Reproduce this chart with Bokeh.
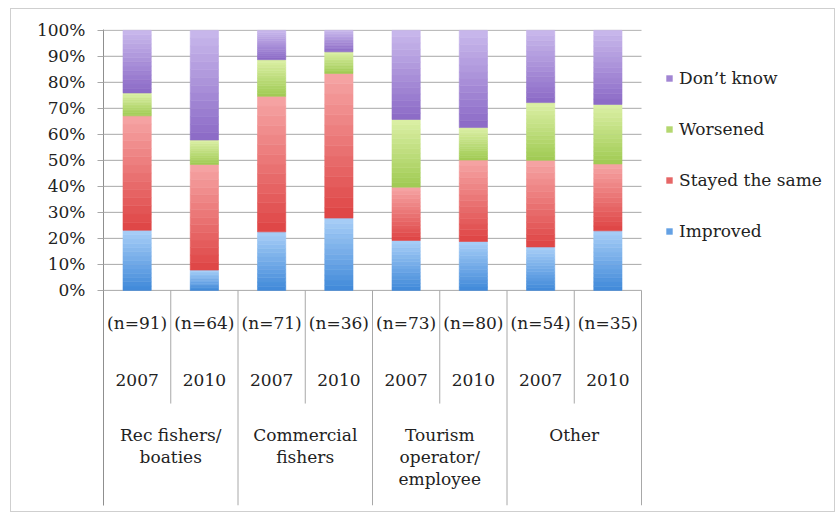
from bokeh.plotting import figure
from bokeh.models import (ColumnDataSource, Range1d, FixedTicker, PrintfTickFormatter,
                          Legend, LegendItem)
from bokeh.core.properties import value
from bokeh.embed import file_html
from bokeh.resources import INLINE

# ---- data -----------------------------------------------------------------
groups = ["Rec fishers/\nboaties", "Commercial\nfishers",
          "Tourism\noperator/\nemployee", "Other"]
years = ["2007", "2010", "2007", "2010", "2007", "2010", "2007", "2010"]
sample_sizes = [91, 64, 71, 36, 73, 80, 54, 35]

# share of respondents (%) per response, one value per group/year column
improved = [23.1, 7.8, 22.5, 27.8, 19.2, 18.8, 16.7, 22.9]
stayed_same = [44.0, 40.6, 52.1, 55.6, 20.5, 31.3, 33.3, 25.7]
worsened = [8.8, 9.4, 14.1, 8.3, 26.0, 12.5, 22.2, 22.9]
dont_know = [24.1, 42.2, 11.3, 8.3, 34.3, 37.4, 27.8, 28.5]

series_names = ["Improved", "Stayed the same", "Worsened", "Don\u2019t know"]
series_values = [improved, stayed_same, worsened, dont_know]
# (light top, dark bottom) colour of each segment's vertical gradient
series_colors = [("#a9cef7", "#3f89d9"), ("#f6a6a6", "#de4343"),
                 ("#dcf0a6", "#9fca52"), ("#c9b9ec", "#8b69c6")]

FONT = "DejaVu Serif"
TEXT = "#222222"
RULE = "#a8a8a8"

# layout: each column is 67.25 px wide; the frame also holds the legend area
COL_PX = 67.25
FRAME_W = 731
FRAME_H = 476


def blend(c1, c2, t):
    a = [int(c1[i:i + 2], 16) for i in (1, 3, 5)]
    b = [int(c2[i:i + 2], 16) for i in (1, 3, 5)]
    return "#%02x%02x%02x" % tuple(round(x + (y - x) * t) for x, y in zip(a, b))


def gradient_source(centers, bottoms, tops, light, dark, width=0.42, bands=14):
    cols = dict(left=[], right=[], bottom=[], top=[], color=[])
    for c, b, t in zip(centers, bottoms, tops):
        step = (t - b) / bands
        for k in range(bands):
            cols["left"].append(c - width / 2)
            cols["right"].append(c + width / 2)
            cols["bottom"].append(b + k * step)
            cols["top"].append(b + (k + 1) * step)
            cols["color"].append(blend(dark, light, (k + 0.5) / bands))
    return ColumnDataSource(cols)


n_cols = len(years)
centers = [i + 0.5 for i in range(n_cols)]
y_bottom = -82.7

p = figure(width=823, height=502, output_backend="svg", toolbar_location=None,
           x_range=Range1d(0, FRAME_W / COL_PX), y_range=Range1d(y_bottom, 100.3),
           frame_width=FRAME_W, frame_height=FRAME_H,
           min_border_left=92, min_border_right=0, min_border_top=20,
           min_border_bottom=6, outline_line_color=None,
           background_fill_color="white", border_fill_color="white",
           styles={"margin-left": "10px", "margin-top": "8px",
                   "border": "1px solid #cfcfcf"})

# y axis in percent
ticks = list(range(0, 101, 10))
p.yaxis.ticker = FixedTicker(ticks=ticks)
p.yaxis.formatter = PrintfTickFormatter(format="%d%%")
p.yaxis.major_label_text_font = FONT
p.yaxis.major_label_text_font_size = "17px"
p.yaxis.major_label_text_color = TEXT
p.yaxis.axis_line_color = "#8f8f8f"
p.yaxis.major_tick_line_color = RULE
p.yaxis.major_tick_in = 0
p.yaxis.major_tick_out = 6
p.yaxis.minor_tick_line_color = None
p.yaxis.major_label_standoff = 12
p.xgrid.grid_line_color = None
p.ygrid.grid_line_color = None
p.xaxis.visible = False

# horizontal gridlines across the bar columns only
p.segment(x0=[0] * len(ticks), x1=[n_cols] * len(ticks), y0=ticks, y1=ticks,
          line_color=RULE, line_width=1)

# stacked bars with a top-to-bottom shading
base = [0.0] * n_cols
for vals, (light, dark) in zip(series_values, series_colors):
    tops = [b + v for b, v in zip(base, vals)]
    src = gradient_source(centers, base, tops, light, dark)
    p.quad(left="left", right="right", bottom="bottom", top="top", source=src,
           fill_color="color", line_color="color", line_width=0.6)
    base = tops

# three-level category labels under the bars
label_style = dict(text_font=value(FONT), text_font_size=value("17px"),
                   text_color=TEXT, text_align="center")
p.text(x=centers, y=[-12.7] * n_cols, text=["(n=%d)" % n for n in sample_sizes],
       text_baseline="middle", **label_style)
p.text(x=centers, y=[-34.6] * n_cols, text=years,
       text_baseline="middle", **label_style)
group_x = [2 * g + 1 for g in range(len(groups))]
p.text(x=group_x, y=[-51.6] * len(groups), text=groups,
       text_baseline="top", text_line_height=1.12, **label_style)

# separators between years and between groups
inner = [2 * g + 1 for g in range(len(groups))]
outer = [2 * g + 2 for g in range(len(groups))]
p.segment(x0=inner, x1=inner, y0=[0] * len(inner), y1=[-43.5] * len(inner),
          line_color=RULE, line_width=1)
p.segment(x0=outer, x1=outer, y0=[0] * len(outer), y1=[y_bottom] * len(outer),
          line_color=RULE, line_width=1)

# legend, topmost segment first; swatch renderers hold a single off-range row
swatch_src = ColumnDataSource(dict(left=[-10.0], right=[-9.9],
                                   bottom=[-500.0], top=[-499.0]))
items = []
for name, (light, dark) in reversed(list(zip(series_names, series_colors))):
    r = p.quad(left="left", right="right", bottom="bottom", top="top",
               source=swatch_src, fill_color=blend(dark, light, 0.35),
               line_color=None)
    items.append(LegendItem(label=name, renderers=[r]))

legend = Legend(items=items, location=(562, 264), padding=0, margin=0,
                spacing=31, label_height=20, glyph_height=8, glyph_width=8,
                label_standoff=6, label_text_font=FONT,
                label_text_font_size="17px", label_text_color=TEXT,
                border_line_color=None, background_fill_alpha=0)
p.add_layout(legend)

open("out.html", "w").write(file_html(p, INLINE))
